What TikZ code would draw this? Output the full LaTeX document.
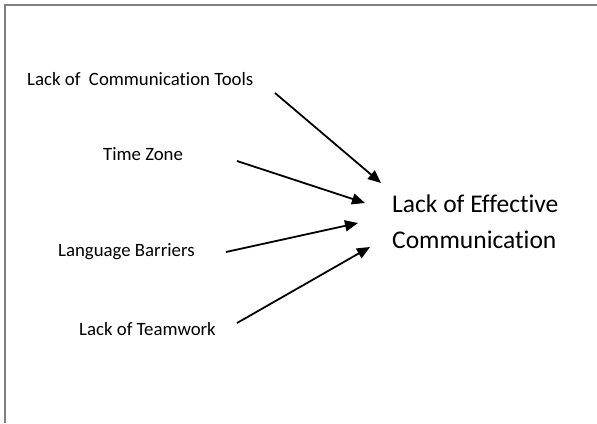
\documentclass[tikz,border=0pt]{standalone}
\usepackage{fontspec}
\setmainfont[Ligatures=NoCommon]{Carlito}
\usetikzlibrary{arrows.meta}
\begin{document}
\begin{tikzpicture}[x=1pt,y=-1pt,
  cause/.style={inner sep=0pt,anchor=base west,font=\fontsize{18.8}{22}\selectfont},
  effect/.style={inner sep=0pt,anchor=west,align=left,font=\fontsize{25.5}{36}\selectfont},
  link/.style={line width=1.8pt,-{Triangle[length=13pt,width=11pt]}},
  frame/.style={draw=black!50,line width=1.5pt}]
  \useasboundingbox (0,0) rectangle (597,423);
  % outer frame (only its top and left sides fall inside the page)
  \draw[frame] (5,423) -- (5,5) -- (597,5);

  % causes
  \node[cause] (tools) at (27,85) {Lack of\ \ Communication Tools};
  \node[cause] (zone) at (103,160) {Time Zone};
  \node[cause] (lang) at (58,256) {Language Barriers};
  \node[cause] (team) at (79,335) {Lack of Teamwork};

  % effect
  \node[effect] (comm) at (392,222) {Lack of Effective\\Communication};

  % arrow ends
  \coordinate (t1) at (275,93);  \coordinate (h1) at (381,183);
  \coordinate (t2) at (237,161); \coordinate (h2) at (365,203);
  \coordinate (t3) at (226,252); \coordinate (h3) at (358,223);
  \coordinate (t4) at (237,323); \coordinate (h4) at (370,247);

  \draw[link] (t1) -- (h1);
  \draw[link] (t2) -- (h2);
  \draw[link] (t3) -- (h3);
  \draw[link] (t4) -- (h4);
\end{tikzpicture}
\end{document}
